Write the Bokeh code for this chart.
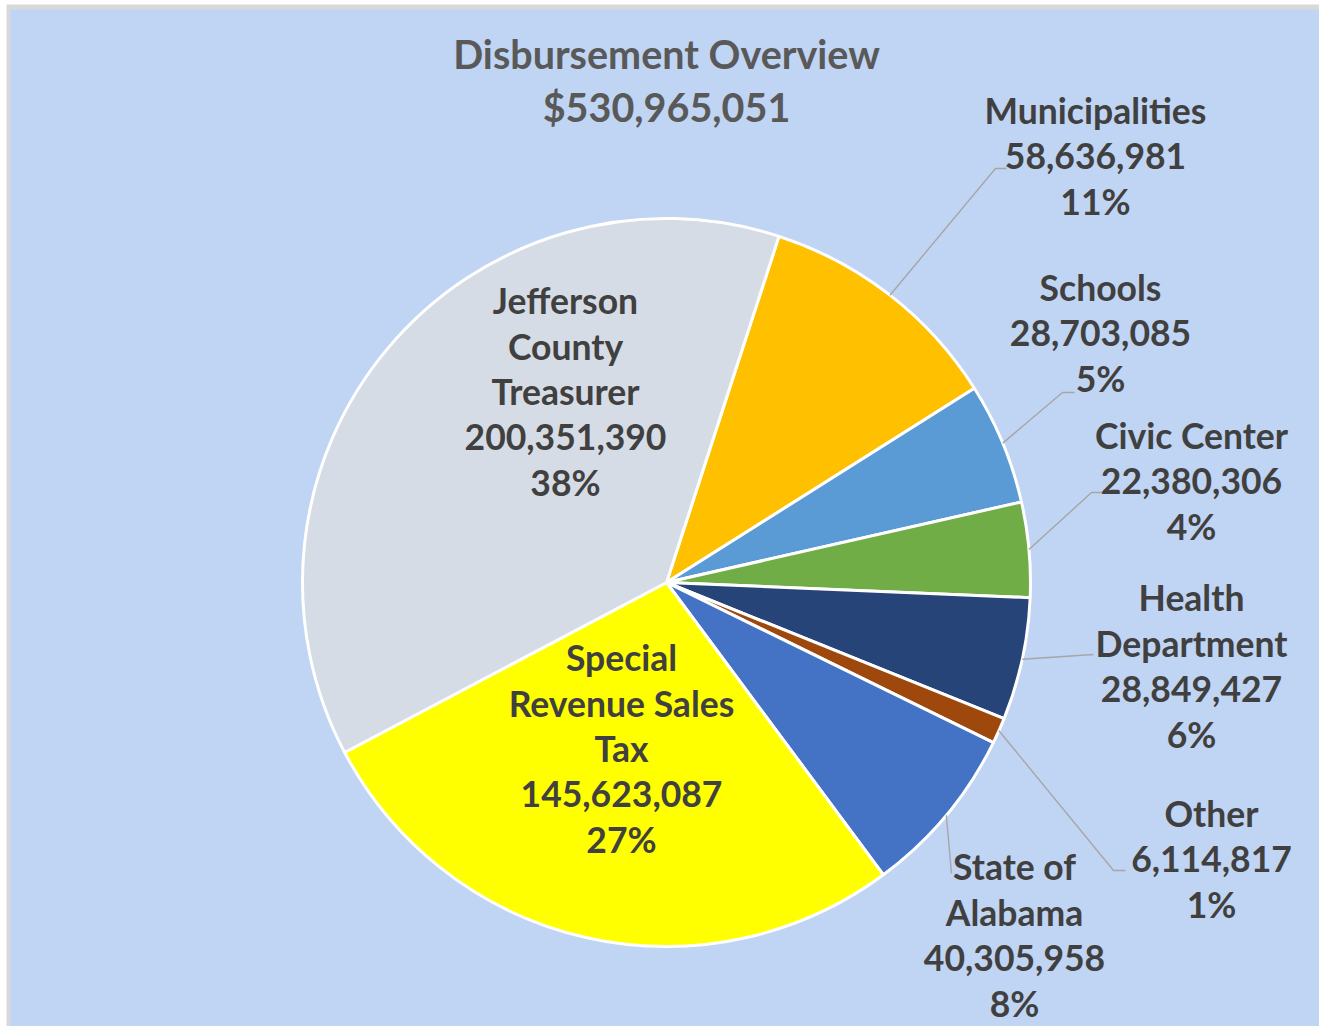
import math
from bokeh.plotting import figure
from bokeh.models import Range1d
from bokeh.core.properties import value
from bokeh.embed import file_html
from bokeh.resources import INLINE

# ---------------- data ----------------
categories = ["Municipalities", "Schools", "Civic Center", "Health Department",
              "Other", "State of Alabama", "Special Revenue Sales Tax",
              "Jefferson County Treasurer"]
amounts = [58636981, 28703085, 22380306, 28849427, 6114817, 40305958,
           145623087, 200351390]
pct_labels = ["11%", "5%", "4%", "6%", "1%", "8%", "27%", "38%"]
name_lines = [["Municipalities"], ["Schools"], ["Civic Center"],
              ["Health", "Department"], ["Other"], ["State of", "Alabama"],
              ["Special", "Revenue Sales", "Tax"],
              ["Jefferson", "County", "Treasurer"]]
title_text = "Disbursement Overview"

# ---------------- style / layout ----------------
colors = ["#FFC000", "#5B9BD5", "#70AD47", "#264478", "#9E480E", "#4472C4",
          "#FFFF00", "#D6DCE5"]
BG = "#C0D4F3"
FONT = "Lato"
LABEL_COLOR = "#404040"
TITLE_COLOR = "#595959"
LABEL_SIZE = "35.5px"
TITLE_SIZE = "39.5px"
LINE_STEP = 45.6

W, H = 1319, 1026

def sy(y):
    return H - y

CX, CY, R = 666, 582, 364
START_DEG = 18.0

# label anchors: (center x, first line y) in page coordinates
label_anchor = [(1095, 110), (1100, 287), (1191, 435), (1191, 597),
                (1211, 813), (1014, 866), (621, 657), (565, 300)]
# leader lines: elbow points (page coords) or None
leader_pts = [[(995, 168), (1006, 168)],
              [(1062, 392), (1074, 392)],
              [(1091, 492), (1102, 492)],
              [(1093, 654)],
              [(1113, 870), (1125, 870)],
              [(951, 873)],
              None, None]

p = figure(width=W, height=H, output_backend="svg", toolbar_location=None,
           x_range=Range1d(0, W), y_range=Range1d(0, H),
           min_border_left=0, min_border_top=0, min_border_right=0,
           min_border_bottom=0)
p.axis.visible = False
p.grid.visible = False
p.outline_line_color = None
p.background_fill_color = "white"
p.border_fill_color = "white"

# chart-area frame (gray edge) and background
p.quad(left=[6], right=[W + 5], top=[sy(4)], bottom=[-5],
       fill_color="#D9D9D9", line_color=None)
p.quad(left=[10], right=[W + 5], top=[sy(9)], bottom=[-5],
       fill_color=BG, line_color=None)

total = sum(amounts)
starts, ends, mids = [], [], []
acc = START_DEG
for a in amounts:
    span = a / total * 360.0
    starts.append(acc)
    ends.append(acc + span)
    mids.append(acc + span / 2)
    acc += span

p.wedge(x=[CX] * len(amounts), y=[sy(CY)] * len(amounts), radius=R,
        start_angle=[math.radians(90 - s) for s in starts],
        end_angle=[math.radians(90 - e) for e in ends],
        direction="clock", fill_color=colors, line_color="white",
        line_width=3)

# leader lines
xs, ys = [], []
for i, pts in enumerate(leader_pts):
    if not pts:
        continue
    th = math.radians(mids[i])
    px = CX + R * math.sin(th)
    py = CY - R * math.cos(th)
    xs.append([px] + [q[0] for q in pts])
    ys.append([sy(py)] + [sy(q[1]) for q in pts])
p.multi_line(xs=xs, ys=ys, line_color="#A6A6A6", line_width=1.4)

# labels
tx, ty, tt = [], [], []
for i, cat in enumerate(categories):
    lines = name_lines[i] + [f"{amounts[i]:,}", pct_labels[i]]
    ax, ay = label_anchor[i]
    for j, ln in enumerate(lines):
        tx.append(ax)
        ty.append(sy(ay + j * LINE_STEP))
        tt.append(ln)
p.text(x=tx, y=ty, text=tt, text_align="center", text_baseline="middle",
       text_font=value(FONT), text_font_style="bold", text_font_size=LABEL_SIZE,
       text_color=LABEL_COLOR)

# title
p.text(x=[666, 666], y=[sy(53), sy(106)], text=[title_text, f"${total:,}"],
       text_align="center", text_baseline="middle", text_font=value(FONT),
       text_font_style="bold", text_font_size=TITLE_SIZE, text_color=TITLE_COLOR)

open("out.html", "w").write(file_html(p, INLINE))
